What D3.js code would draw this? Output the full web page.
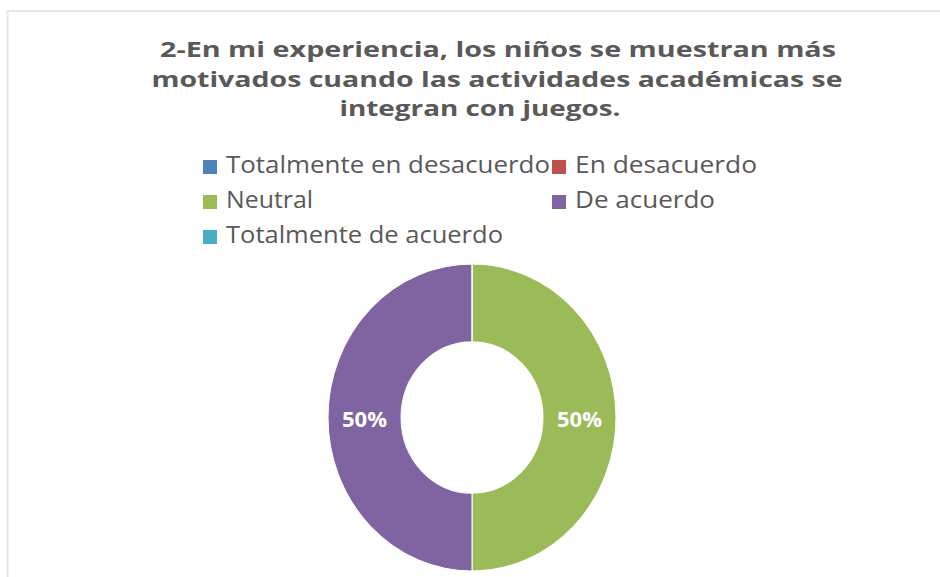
<!DOCTYPE html>
<html>
<head>
<meta charset="utf-8">
<script src="https://cdn.jsdelivr.net/npm/d3@7"></script>
<style>
  body { margin: 0; background: #fff; }
  svg { display: block; }
</style>
</head>
<body>
<svg id="chart" width="940" height="577"></svg>
<script>
// data
var titleLines = ["2-En mi experiencia, los niños se muestran más",
                  "motivados cuando las actividades académicas se",
                  "integran con juegos."];
var categories = ["Totalmente en desacuerdo", "En desacuerdo", "Neutral", "De acuerdo", "Totalmente de acuerdo"];
var values = [0, 0, 50, 50, 0];
var colors = ["#4F81BD", "#C0504D", "#9BBB59", "#8064A2", "#4BACC6"];

var W = 940, H = 577;
var svg = d3.select("#chart");

// frame (runs off right / bottom edge like the screenshot)
svg.append("rect")
  .attr("x", 7.5).attr("y", 11)
  .attr("width", 960).attr("height", 600)
  .attr("fill", "#fff")
  .attr("stroke", "#e6e6e6").attr("stroke-width", 2);

// title
var titleX = [498, 497, 480], titleW = [676, 691, 281], titleY = [57, 87, 116];
svg.append("g").selectAll("text")
  .data(titleLines)
  .enter().append("text")
  .attr("x", function(d, i) { return titleX[i]; })
  .attr("y", function(d, i) { return titleY[i]; })
  .attr("text-anchor", "middle")
  .attr("textLength", function(d, i) { return titleW[i]; })
  .attr("lengthAdjust", "spacingAndGlyphs")
  .style("font-family", "'Open Sans', 'Noto Sans', sans-serif")
  .style("font-weight", "bold")
  .style("font-size", "22px")
  .style("fill", "#595959")
  .text(function(d) { return d; });

// legend, 2 columns
var legX = [203, 552], legY = [173, 208, 243];
var legW = [324, 182, 87, 140, 277];
var leg = svg.append("g").selectAll("g")
  .data(categories)
  .enter().append("g")
  .attr("transform", function(d, i) {
    return "translate(" + legX[i % 2] + "," + legY[Math.floor(i / 2)] + ")";
  });
leg.append("rect")
  .attr("x", 0).attr("y", -13)
  .attr("width", 14).attr("height", 14)
  .attr("fill", function(d, i) { return colors[i]; });
leg.append("text")
  .attr("x", 23).attr("y", 0)
  .attr("textLength", function(d, i) { return legW[i]; })
  .attr("lengthAdjust", "spacingAndGlyphs")
  .style("font-family", "'Open Sans', 'Noto Sans', sans-serif")
  .style("font-size", "23px")
  .style("fill", "#595959")
  .text(function(d) { return d; });

// donut (picture is a bit stretched vertically)
var cx = 472, cy = 417.5, outerR = 144, innerR = 71, sy = 153.5 / 144;

var pie = d3.pie().sort(null).value(function(d) { return d; });
var arcs = pie(values);
var arc = d3.arc().innerRadius(innerR).outerRadius(outerR);

var donut = svg.append("g")
  .attr("transform", "translate(" + cx + "," + cy + ") scale(1," + sy + ")");
donut.selectAll("path")
  .data(arcs)
  .enter().append("path")
  .attr("d", arc)
  .attr("fill", function(d, i) { return colors[i]; })
  .attr("stroke", "#fff")
  .attr("stroke-width", 1);

var labels = svg.append("g")
  .attr("transform", "translate(" + cx + "," + cy + ")");
labels.selectAll("text")
  .data(arcs.filter(function(d) { return d.value > 0; }))
  .enter().append("text")
  .attr("x", function(d) { return arc.centroid(d)[0]; })
  .attr("y", function(d) { return arc.centroid(d)[1] * sy + 9; })
  .attr("text-anchor", "middle")
  .style("font-family", "'Open Sans', 'Noto Sans', sans-serif")
  .style("font-weight", "bold")
  .style("font-size", "22px")
  .style("fill", "#fff")
  .text(function(d) { return d.value + "%"; });
</script>
</body>
</html>
